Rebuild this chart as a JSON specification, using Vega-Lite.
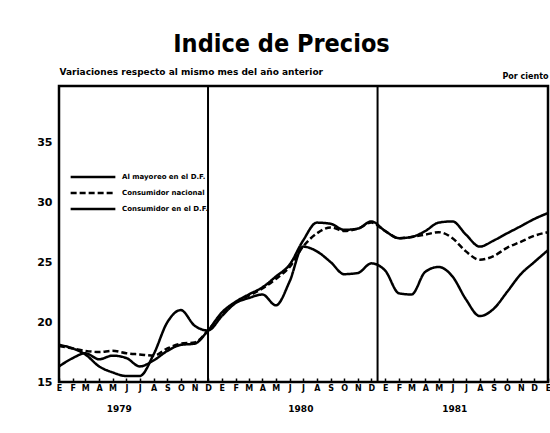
{
  "$schema": "https://vega.github.io/schema/vega-lite/v6.json",
  "width": 489,
  "height": 296,
  "autosize": {"type": "none"},
  "padding": {"left": 59, "top": 86, "right": 2, "bottom": 51},
  "background": "white",
  "config": {
    "view": {"stroke": "black", "strokeWidth": 2.5},
    "font": "DejaVu Sans",
    "axis": {"labelColor": "black", "titleColor": "black", "grid": false}
  },
  "title": {
    "text": "Indice de Precios",
    "font": "Liberation Sans Narrow, DejaVu Sans Condensed, sans-serif",
    "fontSize": 25,
    "fontWeight": "bold",
    "anchor": "middle",
    "dx": -22,
    "baseline": "alphabetic",
    "offset": -10,
    "color": "black"
  },
  "datasets": {
    "series": [
      {"fecha": "1979-01-01", "serie": "Al mayoreo en el D.F.", "valor": 16.3},
      {"fecha": "1979-02-01", "serie": "Al mayoreo en el D.F.", "valor": 17.0},
      {"fecha": "1979-03-01", "serie": "Al mayoreo en el D.F.", "valor": 17.4},
      {"fecha": "1979-04-01", "serie": "Al mayoreo en el D.F.", "valor": 16.9},
      {"fecha": "1979-05-01", "serie": "Al mayoreo en el D.F.", "valor": 17.2},
      {"fecha": "1979-06-01", "serie": "Al mayoreo en el D.F.", "valor": 17.0},
      {"fecha": "1979-07-01", "serie": "Al mayoreo en el D.F.", "valor": 16.3},
      {"fecha": "1979-08-01", "serie": "Al mayoreo en el D.F.", "valor": 16.8},
      {"fecha": "1979-09-01", "serie": "Al mayoreo en el D.F.", "valor": 17.6},
      {"fecha": "1979-10-01", "serie": "Al mayoreo en el D.F.", "valor": 18.1},
      {"fecha": "1979-11-01", "serie": "Al mayoreo en el D.F.", "valor": 18.2},
      {"fecha": "1979-12-01", "serie": "Al mayoreo en el D.F.", "valor": 19.3},
      {"fecha": "1980-01-01", "serie": "Al mayoreo en el D.F.", "valor": 20.8},
      {"fecha": "1980-02-01", "serie": "Al mayoreo en el D.F.", "valor": 21.7},
      {"fecha": "1980-03-01", "serie": "Al mayoreo en el D.F.", "valor": 22.3},
      {"fecha": "1980-04-01", "serie": "Al mayoreo en el D.F.", "valor": 22.9},
      {"fecha": "1980-05-01", "serie": "Al mayoreo en el D.F.", "valor": 23.8},
      {"fecha": "1980-06-01", "serie": "Al mayoreo en el D.F.", "valor": 24.8},
      {"fecha": "1980-07-01", "serie": "Al mayoreo en el D.F.", "valor": 26.8},
      {"fecha": "1980-08-01", "serie": "Al mayoreo en el D.F.", "valor": 28.3},
      {"fecha": "1980-09-01", "serie": "Al mayoreo en el D.F.", "valor": 28.2},
      {"fecha": "1980-10-01", "serie": "Al mayoreo en el D.F.", "valor": 27.7},
      {"fecha": "1980-11-01", "serie": "Al mayoreo en el D.F.", "valor": 27.8},
      {"fecha": "1980-12-01", "serie": "Al mayoreo en el D.F.", "valor": 28.4},
      {"fecha": "1981-01-01", "serie": "Al mayoreo en el D.F.", "valor": 27.6},
      {"fecha": "1981-02-01", "serie": "Al mayoreo en el D.F.", "valor": 27.0},
      {"fecha": "1981-03-01", "serie": "Al mayoreo en el D.F.", "valor": 27.1},
      {"fecha": "1981-04-01", "serie": "Al mayoreo en el D.F.", "valor": 27.6},
      {"fecha": "1981-05-01", "serie": "Al mayoreo en el D.F.", "valor": 28.3},
      {"fecha": "1981-06-01", "serie": "Al mayoreo en el D.F.", "valor": 28.4},
      {"fecha": "1981-07-01", "serie": "Al mayoreo en el D.F.", "valor": 27.3},
      {"fecha": "1981-08-01", "serie": "Al mayoreo en el D.F.", "valor": 26.3},
      {"fecha": "1981-09-01", "serie": "Al mayoreo en el D.F.", "valor": 26.8},
      {"fecha": "1981-10-01", "serie": "Al mayoreo en el D.F.", "valor": 27.4},
      {"fecha": "1981-11-01", "serie": "Al mayoreo en el D.F.", "valor": 28.0},
      {"fecha": "1981-12-01", "serie": "Al mayoreo en el D.F.", "valor": 28.6},
      {"fecha": "1982-01-01", "serie": "Al mayoreo en el D.F.", "valor": 29.1},
      {"fecha": "1979-01-01", "serie": "Consumidor nacional", "valor": 18.0},
      {"fecha": "1979-02-01", "serie": "Consumidor nacional", "valor": 17.8},
      {"fecha": "1979-03-01", "serie": "Consumidor nacional", "valor": 17.6},
      {"fecha": "1979-04-01", "serie": "Consumidor nacional", "valor": 17.5},
      {"fecha": "1979-05-01", "serie": "Consumidor nacional", "valor": 17.6},
      {"fecha": "1979-06-01", "serie": "Consumidor nacional", "valor": 17.4},
      {"fecha": "1979-07-01", "serie": "Consumidor nacional", "valor": 17.3},
      {"fecha": "1979-08-01", "serie": "Consumidor nacional", "valor": 17.2},
      {"fecha": "1979-09-01", "serie": "Consumidor nacional", "valor": 17.8},
      {"fecha": "1979-10-01", "serie": "Consumidor nacional", "valor": 18.2},
      {"fecha": "1979-11-01", "serie": "Consumidor nacional", "valor": 18.3},
      {"fecha": "1979-12-01", "serie": "Consumidor nacional", "valor": 19.3},
      {"fecha": "1980-01-01", "serie": "Consumidor nacional", "valor": 20.7},
      {"fecha": "1980-02-01", "serie": "Consumidor nacional", "valor": 21.6},
      {"fecha": "1980-03-01", "serie": "Consumidor nacional", "valor": 22.2},
      {"fecha": "1980-04-01", "serie": "Consumidor nacional", "valor": 22.8},
      {"fecha": "1980-05-01", "serie": "Consumidor nacional", "valor": 23.6},
      {"fecha": "1980-06-01", "serie": "Consumidor nacional", "valor": 24.6},
      {"fecha": "1980-07-01", "serie": "Consumidor nacional", "valor": 26.3},
      {"fecha": "1980-08-01", "serie": "Consumidor nacional", "valor": 27.4},
      {"fecha": "1980-09-01", "serie": "Consumidor nacional", "valor": 27.9},
      {"fecha": "1980-10-01", "serie": "Consumidor nacional", "valor": 27.6},
      {"fecha": "1980-11-01", "serie": "Consumidor nacional", "valor": 27.8},
      {"fecha": "1980-12-01", "serie": "Consumidor nacional", "valor": 28.3},
      {"fecha": "1981-01-01", "serie": "Consumidor nacional", "valor": 27.6},
      {"fecha": "1981-02-01", "serie": "Consumidor nacional", "valor": 27.0},
      {"fecha": "1981-03-01", "serie": "Consumidor nacional", "valor": 27.1},
      {"fecha": "1981-04-01", "serie": "Consumidor nacional", "valor": 27.3},
      {"fecha": "1981-05-01", "serie": "Consumidor nacional", "valor": 27.5},
      {"fecha": "1981-06-01", "serie": "Consumidor nacional", "valor": 27.0},
      {"fecha": "1981-07-01", "serie": "Consumidor nacional", "valor": 25.9},
      {"fecha": "1981-08-01", "serie": "Consumidor nacional", "valor": 25.2},
      {"fecha": "1981-09-01", "serie": "Consumidor nacional", "valor": 25.5},
      {"fecha": "1981-10-01", "serie": "Consumidor nacional", "valor": 26.2},
      {"fecha": "1981-11-01", "serie": "Consumidor nacional", "valor": 26.7},
      {"fecha": "1981-12-01", "serie": "Consumidor nacional", "valor": 27.2},
      {"fecha": "1982-01-01", "serie": "Consumidor nacional", "valor": 27.5},
      {"fecha": "1979-01-01", "serie": "Consumidor en el D.F.", "valor": 18.1},
      {"fecha": "1979-02-01", "serie": "Consumidor en el D.F.", "valor": 17.8},
      {"fecha": "1979-03-01", "serie": "Consumidor en el D.F.", "valor": 17.3},
      {"fecha": "1979-04-01", "serie": "Consumidor en el D.F.", "valor": 16.3},
      {"fecha": "1979-05-01", "serie": "Consumidor en el D.F.", "valor": 15.8},
      {"fecha": "1979-06-01", "serie": "Consumidor en el D.F.", "valor": 15.5},
      {"fecha": "1979-07-01", "serie": "Consumidor en el D.F.", "valor": 15.5},
      {"fecha": "1979-08-01", "serie": "Consumidor en el D.F.", "valor": 17.3},
      {"fecha": "1979-09-01", "serie": "Consumidor en el D.F.", "valor": 20.0},
      {"fecha": "1979-10-01", "serie": "Consumidor en el D.F.", "valor": 21.0},
      {"fecha": "1979-11-01", "serie": "Consumidor en el D.F.", "valor": 19.7},
      {"fecha": "1979-12-01", "serie": "Consumidor en el D.F.", "valor": 19.3},
      {"fecha": "1980-01-01", "serie": "Consumidor en el D.F.", "valor": 20.5},
      {"fecha": "1980-02-01", "serie": "Consumidor en el D.F.", "valor": 21.6},
      {"fecha": "1980-03-01", "serie": "Consumidor en el D.F.", "valor": 22.0},
      {"fecha": "1980-04-01", "serie": "Consumidor en el D.F.", "valor": 22.3},
      {"fecha": "1980-05-01", "serie": "Consumidor en el D.F.", "valor": 21.4},
      {"fecha": "1980-06-01", "serie": "Consumidor en el D.F.", "valor": 23.4},
      {"fecha": "1980-07-01", "serie": "Consumidor en el D.F.", "valor": 26.3},
      {"fecha": "1980-08-01", "serie": "Consumidor en el D.F.", "valor": 25.9},
      {"fecha": "1980-09-01", "serie": "Consumidor en el D.F.", "valor": 25.0},
      {"fecha": "1980-10-01", "serie": "Consumidor en el D.F.", "valor": 24.0},
      {"fecha": "1980-11-01", "serie": "Consumidor en el D.F.", "valor": 24.1},
      {"fecha": "1980-12-01", "serie": "Consumidor en el D.F.", "valor": 24.9},
      {"fecha": "1981-01-01", "serie": "Consumidor en el D.F.", "valor": 24.3},
      {"fecha": "1981-02-01", "serie": "Consumidor en el D.F.", "valor": 22.4},
      {"fecha": "1981-03-01", "serie": "Consumidor en el D.F.", "valor": 22.3},
      {"fecha": "1981-04-01", "serie": "Consumidor en el D.F.", "valor": 24.2},
      {"fecha": "1981-05-01", "serie": "Consumidor en el D.F.", "valor": 24.6},
      {"fecha": "1981-06-01", "serie": "Consumidor en el D.F.", "valor": 23.8},
      {"fecha": "1981-07-01", "serie": "Consumidor en el D.F.", "valor": 21.9},
      {"fecha": "1981-08-01", "serie": "Consumidor en el D.F.", "valor": 20.5},
      {"fecha": "1981-09-01", "serie": "Consumidor en el D.F.", "valor": 21.1},
      {"fecha": "1981-10-01", "serie": "Consumidor en el D.F.", "valor": 22.5},
      {"fecha": "1981-11-01", "serie": "Consumidor en el D.F.", "valor": 24.0},
      {"fecha": "1981-12-01", "serie": "Consumidor en el D.F.", "valor": 25.0},
      {"fecha": "1982-01-01", "serie": "Consumidor en el D.F.", "valor": 26.0}
    ],
    "divisiones": [
      {"fecha": "1979-12-01"},
      {"fecha": "1980-12-15"}
    ]
  },
  "layer": [
    {
      "data": {"name": "series"},
      "mark": {"type": "line", "color": "black", "strokeWidth": 2.5, "interpolate": "monotone"},
      "encoding": {
        "x": {
          "field": "fecha",
          "type": "temporal",
          "scale": {
            "type": "utc",
            "domain": [
              {"year": 1979, "month": 1, "date": 1, "utc": true},
              {"year": 1982, "month": 1, "date": 1, "utc": true}
            ]
          },
          "axis": {
            "orient": "bottom",
            "title": null,
            "tickCount": {"interval": "month", "step": 1},
            "labelExpr": "['E','F','M','A','M','J','J','A','S','O','N','D'][utcmonth(datum.value)]",
            "domain": false,
            "tickSize": -4,
            "tickColor": "black",
            "tickWidth": 1.5,
            "labelFontSize": 8,
            "labelFontWeight": "bold",
            "labelPadding": 6,
            "labelFlush": false,
            "labelOverlap": false
          }
        },
        "y": {
          "field": "valor",
          "type": "quantitative",
          "scale": {"domain": [15, 39.7], "nice": false, "zero": false},
          "axis": {
            "orient": "left",
            "values": [15, 20, 25, 30, 35],
            "ticks": false,
            "domain": false,
            "labelFontSize": 11,
            "labelFontWeight": "bold",
            "labelPadding": 7,
            "title": "Variaciones respecto al mismo mes del año anterior",
            "titleAngle": 0,
            "titleAlign": "left",
            "titleBaseline": "bottom",
            "titleX": 0,
            "titleY": -10,
            "titleFontSize": 9,
            "titleFontWeight": "bold"
          }
        },
        "strokeDash": {
          "field": "serie",
          "type": "nominal",
          "scale": {
            "domain": ["Al mayoreo en el D.F.", "Consumidor nacional", "Consumidor en el D.F."],
            "range": [[1, 0], [6, 3], [1, 0]]
          },
          "legend": {
            "title": null,
            "orient": "none",
            "legendX": 10,
            "legendY": 83,
            "symbolType": "stroke",
            "symbolSize": 2000,
            "symbolStrokeColor": "black",
            "symbolStrokeWidth": 2.5,
            "labelFontSize": 7,
            "labelFontWeight": "bold",
            "labelColor": "black",
            "clipHeight": 16,
            "rowPadding": 0,
            "labelOffset": 5
          }
        }
      }
    },
    {
      "data": {"name": "divisiones"},
      "mark": {"type": "rule", "color": "black", "strokeWidth": 2},
      "encoding": {
        "x": {
          "field": "fecha",
          "type": "temporal",
          "axis": {
            "orient": "bottom",
            "title": null,
            "values": [
              {"year": 1979, "month": 5, "date": 15, "utc": true},
              {"year": 1980, "month": 6, "date": 25, "utc": true},
              {"year": 1981, "month": 6, "date": 5, "utc": true}
            ],
            "labelExpr": "utcFormat(datum.value, '%Y')",
            "ticks": false,
            "domain": false,
            "labelPadding": 22,
            "labelFontSize": 9,
            "labelFontWeight": "bold"
          }
        },
        "y": {
          "datum": 15,
          "type": "quantitative",
          "axis": {
            "orient": "right",
            "title": "Por ciento",
            "labels": false,
            "ticks": false,
            "domain": false,
            "titleAngle": 0,
            "titleAlign": "left",
            "titleBaseline": "bottom",
            "titleX": -46,
            "titleY": -6,
            "titleFontSize": 8,
            "titleFontWeight": "bold"
          }
        },
        "y2": {"datum": 39.7}
      }
    }
  ],
  "resolve": {"axis": {"x": "independent", "y": "independent"}}
}
